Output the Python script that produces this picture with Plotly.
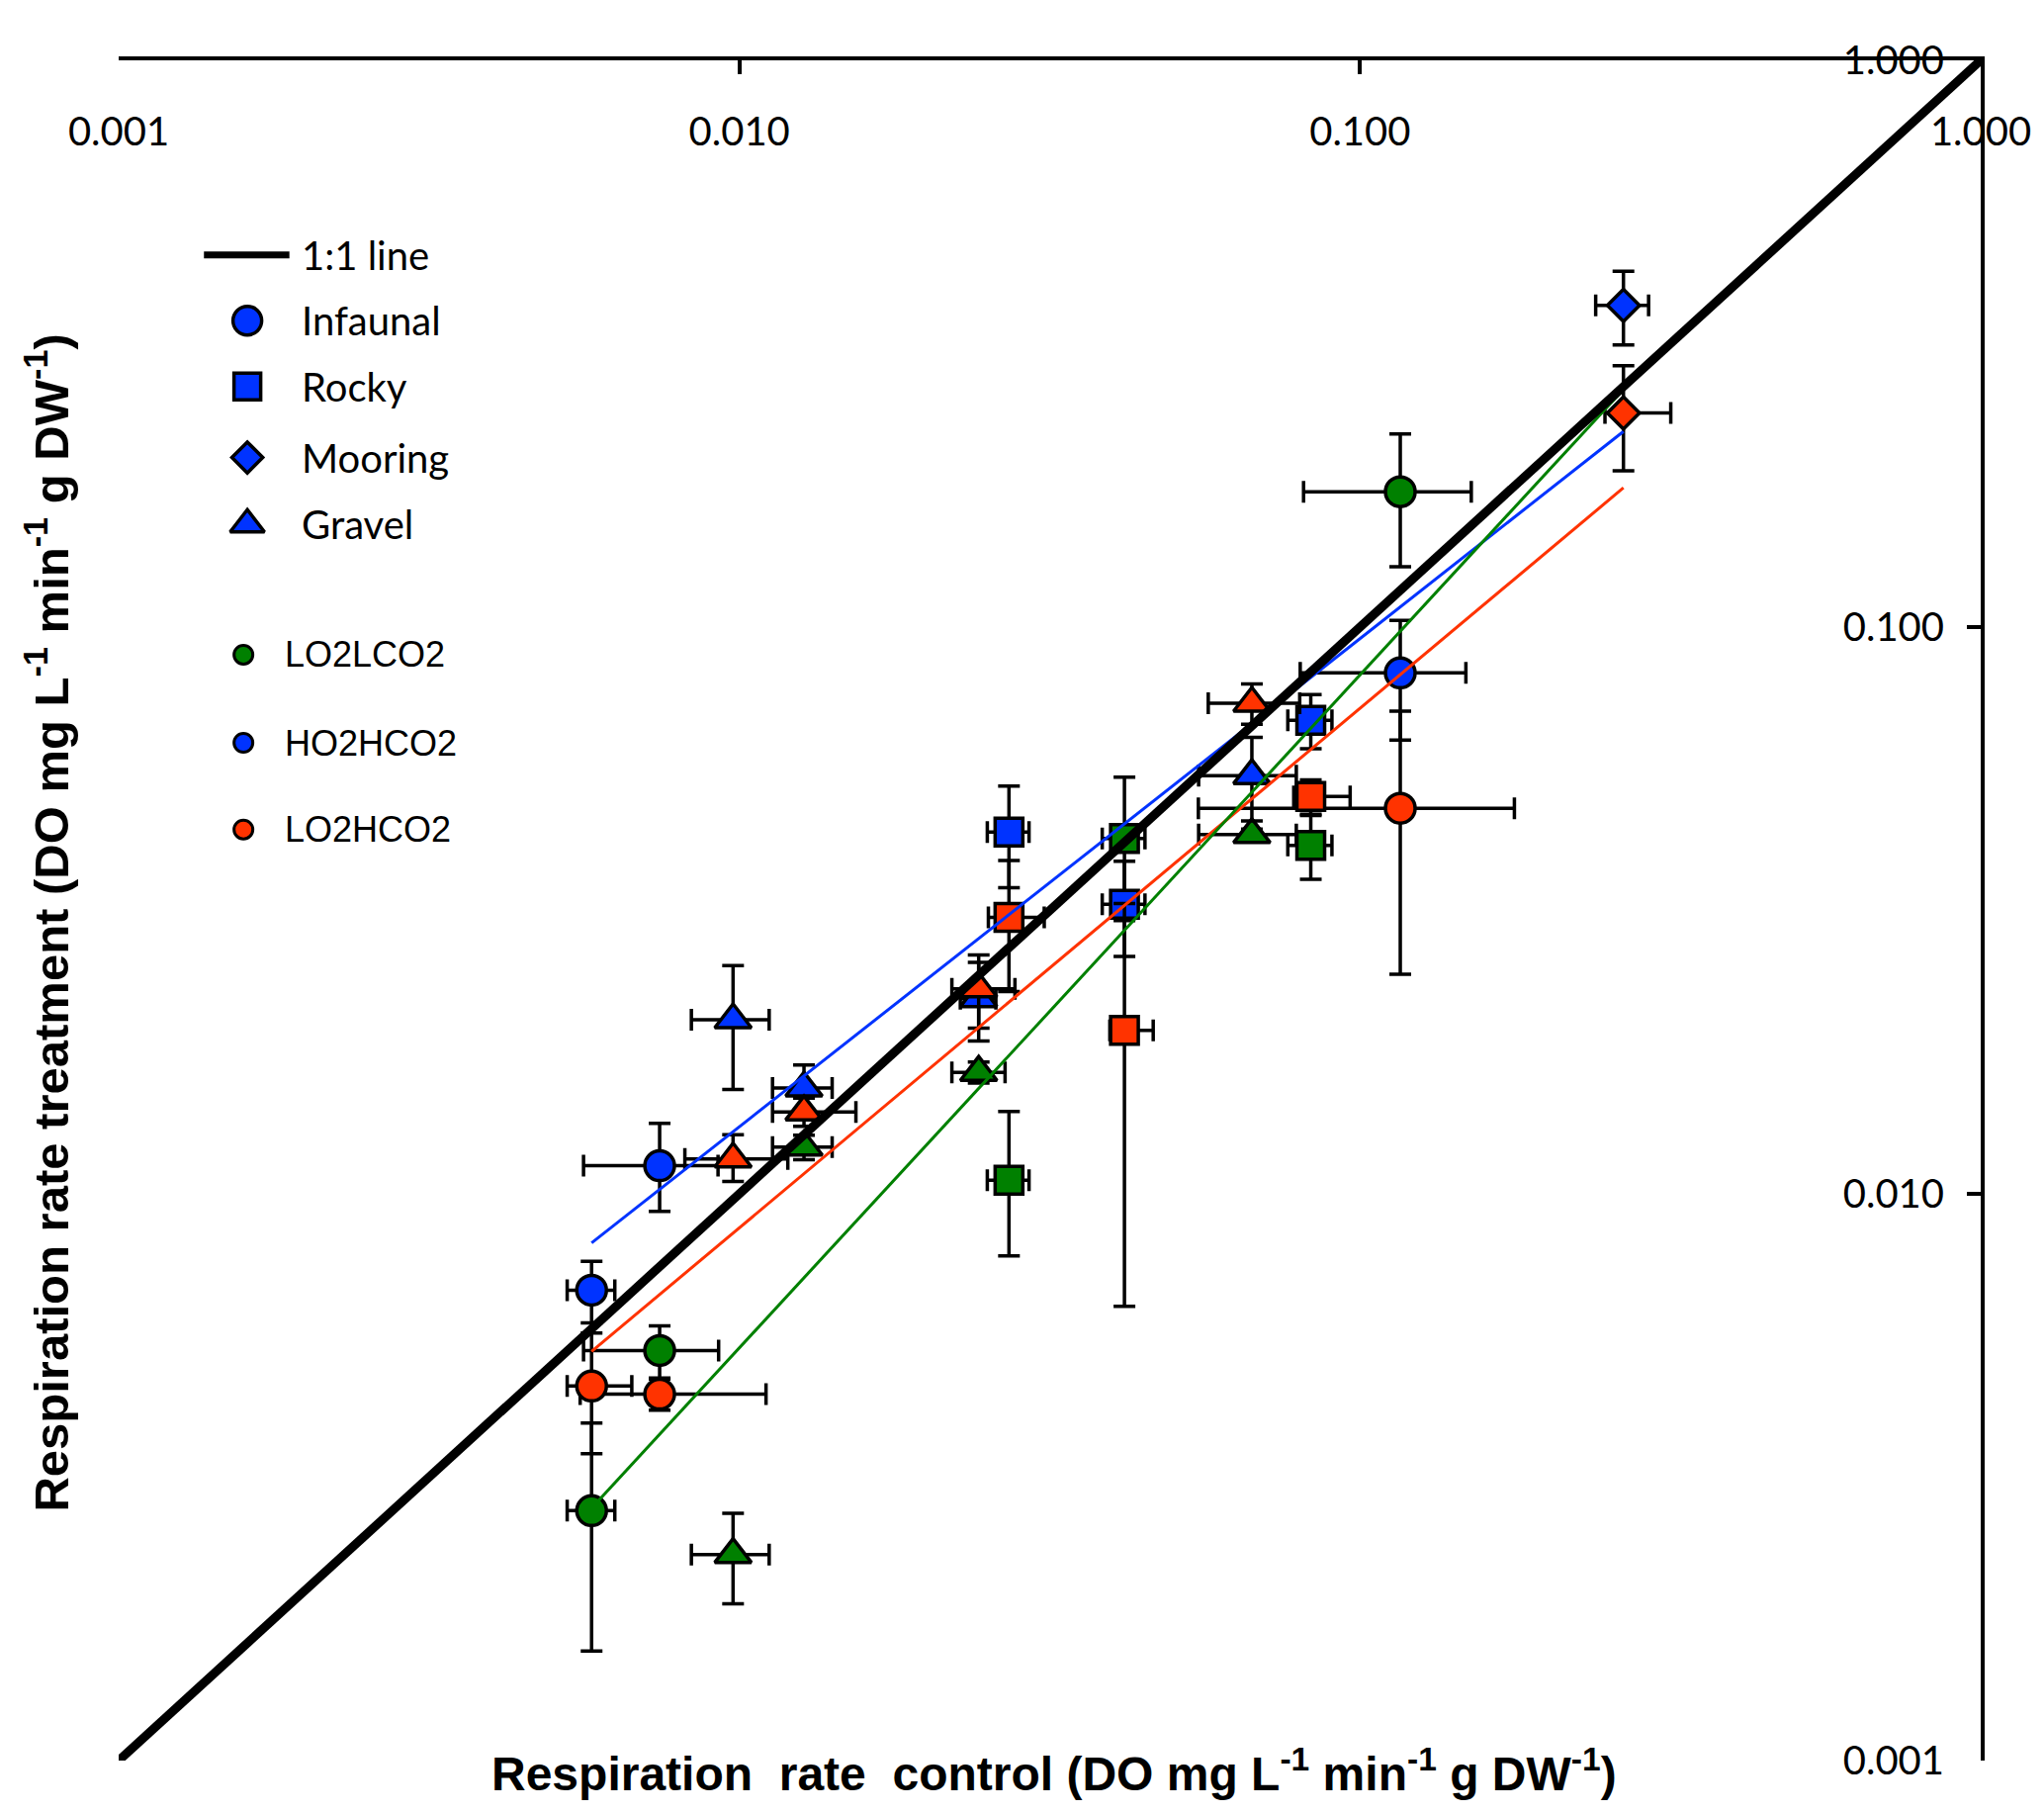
import plotly.graph_objects as go

# control vs treatment respiration rates (DO mg L-1 min-1 g DW-1)
habitats_3 = ['Infaunal', 'Infaunal', 'Infaunal', 'Rocky', 'Rocky', 'Rocky',
              'Gravel', 'Gravel', 'Gravel', 'Gravel']
habitats_4 = ['Infaunal', 'Infaunal', 'Infaunal', 'Rocky', 'Rocky', 'Rocky', 'Mooring',
              'Gravel', 'Gravel', 'Gravel', 'Gravel']

# LO2LCO2 (green)
lo2lco2_ctrl = [0.00578, 0.00744, 0.1161, 0.02719, 0.04173, 0.0833, 0.00977, 0.01271, 0.0243, 0.06695]
lo2lco2_trt = [0.00276, 0.00529, 0.1733, 0.01057, 0.04235, 0.0412, 0.00231, 0.01209, 0.01638, 0.04303]
lo2lco2_xerr_hi = [0.00052, 0.00182, 0.035, 0.0021, 0.0033, 0.0068, 0.0014, 0.0014, 0.0025, 0.012]
lo2lco2_xerr_lo = [0.0005, 0.00183, 0.035, 0.0021, 0.0033, 0.0068, 0.0014, 0.0014, 0.0023, 0.012]
lo2lco2_yerr_hi = [0.00118, 0.00056, 0.0458, 0.0034, 0.012, 0.0053, 0.00042, 0.0006, 0.0007, 0.001]
lo2lco2_yerr_lo = [0.0012, 0.00056, 0.0455, 0.0028, 0.012, 0.0053, 0.00042, 0.0006, 0.0007, 0.001]

# HO2HCO2 (blue)
ho2hco2_ctrl = [0.00578, 0.00744, 0.1161, 0.02719, 0.04173, 0.0833, 0.2657, 0.00977, 0.01271, 0.0243, 0.06695]
ho2hco2_trt = [0.00676, 0.01121, 0.083, 0.0435, 0.03243, 0.0685, 0.3696, 0.02028, 0.01537, 0.0221, 0.0547]
ho2hco2_xerr_hi = [0.00052, 0.0018, 0.032, 0.0021, 0.0033, 0.0068, 0.026, 0.0014, 0.0014, 0.0016, 0.012]
ho2hco2_xerr_lo = [0.0005, 0.00183, 0.036, 0.0021, 0.0033, 0.0068, 0.026, 0.0014, 0.0014, 0.0016, 0.012]
ho2hco2_yerr_hi = [0.00084, 0.0021, 0.0197, 0.0089, 0.0062, 0.0075, 0.055, 0.005, 0.0015, 0.0035, 0.0092]
ho2hco2_yerr_lo = [0.00084, 0.0019, 0.0198, 0.0088, 0.0062, 0.0075, 0.055, 0.005, 0.0015, 0.0035, 0.0092]

# LO2HCO2 (red)
lo2hco2_ctrl = [0.00578, 0.00744, 0.1161, 0.02719, 0.04173, 0.0833, 0.2657, 0.00977, 0.01271, 0.0243, 0.06695]
lo2hco2_trt = [0.00458, 0.00443, 0.0479, 0.03075, 0.01943, 0.05024, 0.2386, 0.01152, 0.01395, 0.0230, 0.07338]
lo2hco2_xerr_hi = [0.00093, 0.0036, 0.0612, 0.0038, 0.0047, 0.0131, 0.051, 0.0022, 0.0027, 0.0035, 0.013]
lo2hco2_xerr_lo = [0.0005, 0.0019, 0.0612, 0.002, 0.0022, 0.0051, 0.0176, 0.0016, 0.0014, 0.0023, 0.010]
lo2hco2_yerr_hi = [0.0011, 0.00028, 0.0232, 0.008, 0.0131, 0.0035, 0.0505, 0.0012, 0.0008, 0.0034, 0.006]
lo2hco2_yerr_lo = [0.0011, 0.00028, 0.0235, 0.008, 0.0131, 0.0035, 0.0499, 0.001, 0.0008, 0.0034, 0.006]

# regression lines (end points) and the 1:1 line
fit_x = [0.00578, 0.2657]
fit_lo2lco2 = [0.00279, 0.2627]
fit_ho2hco2 = [0.00819, 0.2214]
fit_lo2hco2 = [0.00527, 0.1761]
one_to_one = [0.001, 1.0]

tick_vals = [0.001, 0.01, 0.1, 1.0]
tick_text = ['0.001', '0.010', '0.100', '1.000']

GREEN = '#008000'
BLUE = '#0033FF'
RED = '#FF3300'

symbol_map = {'Infaunal': 'circle', 'Rocky': 'square', 'Mooring': 'diamond', 'Gravel': 'triangle-up'}
size_map = {'Infaunal': 30, 'Rocky': 28, 'Mooring': 25, 'Gravel': 32}


def add_treatment(fig, ctrl, trt, habitats, xhi, xlo, yhi, ylo, color, name):
    fig.add_trace(go.Scatter(
        x=ctrl, y=trt, mode='markers', name=name, showlegend=False,
        marker=dict(color=color, opacity=1, symbol=[symbol_map[h] for h in habitats],
                    size=[size_map[h] for h in habitats],
                    line=dict(color='black', width=3.5)),
        error_x=dict(type='data', symmetric=False, array=xhi, arrayminus=xlo,
                     color='black', thickness=3.5, width=11),
        error_y=dict(type='data', symmetric=False, array=yhi, arrayminus=ylo,
                     color='black', thickness=3.5, width=11),
    ))


fig = go.Figure()
add_treatment(fig, lo2lco2_ctrl, lo2lco2_trt, habitats_3, lo2lco2_xerr_hi, lo2lco2_xerr_lo,
              lo2lco2_yerr_hi, lo2lco2_yerr_lo, GREEN, 'LO2LCO2')
add_treatment(fig, ho2hco2_ctrl, ho2hco2_trt, habitats_4, ho2hco2_xerr_hi, ho2hco2_xerr_lo,
              ho2hco2_yerr_hi, ho2hco2_yerr_lo, BLUE, 'HO2HCO2')
add_treatment(fig, lo2hco2_ctrl, lo2hco2_trt, habitats_4, lo2hco2_xerr_hi, lo2hco2_xerr_lo,
              lo2hco2_yerr_hi, lo2hco2_yerr_lo, RED, 'LO2HCO2')

for fy, col in [(fit_ho2hco2, BLUE), (fit_lo2hco2, RED), (fit_lo2lco2, GREEN)]:
    fig.add_trace(go.Scatter(x=fit_x, y=fy, mode='lines', showlegend=False,
                             line=dict(color=col, width=3)))

fig.add_trace(go.Scatter(x=one_to_one, y=one_to_one, mode='lines', showlegend=False,
                         line=dict(color='black', width=9)))

# hand-made legend on an overlay axis (fractions of the plot area)
legend_marks = [('Infaunal', 'circle', BLUE, 0.8469, 29),
                ('Rocky', 'square', BLUE, 0.8082, 27),
                ('Mooring', 'diamond', BLUE, 0.7664, 24),
                ('Gravel', 'triangle-up', BLUE, 0.7270, 30)]
legend_treat = [('LO2LCO2', GREEN, 0.6504), ('HO2HCO2', BLUE, 0.5986), ('LO2HCO2', RED, 0.5476)]

fig.add_trace(go.Scatter(
    x=[0.0691] * len(legend_marks), y=[m[3] for m in legend_marks], xaxis='x2', yaxis='y2',
    mode='markers', showlegend=False, hoverinfo='skip',
    marker=dict(symbol=[m[1] for m in legend_marks], color=[m[2] for m in legend_marks],
                opacity=1, size=[m[4] for m in legend_marks],
                line=dict(color='black', width=3.5))))
fig.add_trace(go.Scatter(
    x=[0.067] * len(legend_treat), y=[m[2] for m in legend_treat], xaxis='x2', yaxis='y2',
    mode='markers', showlegend=False, hoverinfo='skip',
    marker=dict(symbol='circle', color=[m[1] for m in legend_treat], size=19, opacity=1,
                line=dict(color='black', width=3))))

annotations = []
annotations.append(dict(x=0.0973, y=0.8855, xref='paper', yref='paper', text='1:1 line',
                        showarrow=False, xanchor='left', yanchor='middle',
                        font=dict(family='Lato', size=40, color='black')))
for label, sym, col, yy, sz in legend_marks:
    annotations.append(dict(x=0.0973, y=yy, xref='paper', yref='paper', text=label,
                            showarrow=False, xanchor='left', yanchor='middle',
                            font=dict(family='Lato', size=40, color='black')))
for label, col, yy in legend_treat:
    annotations.append(dict(x=0.0882, y=yy, xref='paper', yref='paper', text=label,
                            showarrow=False, xanchor='left', yanchor='middle',
                            font=dict(family='Liberation Sans', size=36, color='black')))

units = 'DO mg L<sup>-1</sup> min<sup>-1</sup> g DW<sup>-1</sup>'
annotations.append(dict(x=0.5, y=0, xref='paper', yref='paper', xshift=4, yshift=-10,
                        text='<b>Respiration\u00a0\u00a0rate\u00a0\u00a0control (' + units + ')</b>',
                        showarrow=False, xanchor='center', yanchor='middle',
                        font=dict(family='Liberation Sans', size=48, color='black')))
annotations.append(dict(x=0, y=0.4924, xref='paper', yref='paper', xshift=-72,
                        text='<b>Respiration rate treatment (' + units + ')</b>', textangle=-90,
                        showarrow=False, xanchor='center', yanchor='middle',
                        font=dict(family='Liberation Sans', size=49, color='black')))

axis_style = dict(type='log', range=[-3, 0], showline=True, linecolor='black', linewidth=4,
                  ticks='inside', ticklen=14, tickwidth=4, tickcolor='black',
                  showgrid=False, zeroline=False, tickvals=tick_vals, ticktext=tick_text,
                  ticklabelposition='inside', ticklabeloverflow='allow',
                  tickfont=dict(family='Lato', size=40, color='black'))

fig.update_layout(
    width=2067, height=1832,
    margin=dict(l=120, r=64, t=61, b=52),
    plot_bgcolor='white', paper_bgcolor='white',
    xaxis=dict(side='top', ticklabelstandoff=49, **axis_style),
    yaxis=dict(side='right', ticklabelstandoff=28, **axis_style),
    xaxis2=dict(overlaying='x', range=[0, 1], visible=False),
    yaxis2=dict(overlaying='y', range=[0, 1], visible=False),
    shapes=[dict(type='line', xref='paper', yref='paper', x0=0.0458, x1=0.0917,
                 y0=0.8855, y1=0.8855, line=dict(color='black', width=7))],
    annotations=annotations,
)

fig.write_html("out.html", config={'displayModeBar': False},
               post_script="document.body.style.margin='0px';")
